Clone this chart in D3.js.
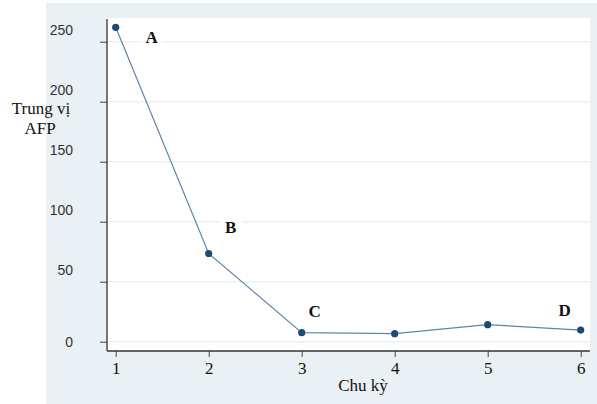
<html>
<head>
<script src="https://d3js.org/d3.v7.min.js"></script>
<style>
  body { margin: 0; background: #ffffff; }
</style>
</head>
<body>
<svg id="svg" width="597" height="404"></svg>
<script>
  // data
  var cycles = [1, 2, 3, 4, 5, 6];
  var medianAFP = [262, 73.5, 7.5, 6.7, 14.2, 9.7];
  var yTicks = [0, 50, 100, 150, 200, 250];
  var pointLabels = [
    { cycle: 1, text: "A", dx: 36, dy: 10 },
    { cycle: 2, text: "B", dx: 22, dy: -26 },
    { cycle: 3, text: "C", dx: 13, dy: -22 },
    { cycle: 6, text: "D", dx: -16, dy: -20 }
  ];

  var svg = d3.select("svg");
  var width = +svg.attr("width");
  var height = +svg.attr("height");

  // outer panel
  svg.append("rect").attr("x", 46).attr("y", 3).attr("width", width - 46).attr("height", height - 3)
     .attr("fill", "#eaf1f4");

  var plotLeft = 107, plotRight = 590, plotTop = 18, plotBottom = 351;
  svg.append("rect").attr("x", plotLeft).attr("y", plotTop)
     .attr("width", plotRight - plotLeft).attr("height", plotBottom - plotTop)
     .attr("fill", "#ffffff");

  var x = d3.scaleLinear().domain([1, 6]).range([115.7, 580.7]);
  var y = d3.scaleLinear().domain([0, 250]).range([341.7, 41.7]);

  // gridlines
  svg.append("g").selectAll("line").data(yTicks).enter().append("line")
     .attr("x1", plotLeft).attr("x2", plotRight)
     .attr("y1", function(d){ return y(d); }).attr("y2", function(d){ return y(d); })
     .attr("stroke", "#eaf1f3").attr("stroke-width", 1.5);

  // axes
  var yAxis = d3.axisLeft(y).tickValues(yTicks).tickSize(7).tickSizeOuter(0);
  var gy = svg.append("g").attr("transform", "translate(" + plotLeft + ",0)").call(yAxis);
  gy.select(".domain").remove();
  gy.selectAll(".tick line").attr("stroke", "#444");
  gy.selectAll(".tick text")
    .attr("x", -34).attr("text-anchor", "end")
    .attr("dy", function(d){ return d == 0 ? "0.35em" : "-0.5em"; })
    .attr("font-family", "Liberation Sans, Arial, sans-serif").attr("font-size", 14).attr("fill", "#333");

  var xAxis = d3.axisBottom(x).tickValues(cycles).tickFormat(d3.format("d")).tickSize(6).tickSizeOuter(0);
  var gx = svg.append("g").attr("transform", "translate(0," + plotBottom + ")").call(xAxis);
  gx.select(".domain").remove();
  gx.selectAll(".tick line").attr("stroke", "#444");
  gx.selectAll(".tick text")
    .attr("y", 11)
    .attr("font-family", "Liberation Serif, Times New Roman, serif").attr("font-size", 17).attr("fill", "#111");

  svg.append("line").attr("x1", plotLeft).attr("x2", plotLeft).attr("y1", plotTop + 1).attr("y2", plotBottom)
     .attr("stroke", "#333").attr("stroke-width", 1.3);
  svg.append("line").attr("x1", plotLeft).attr("x2", plotRight).attr("y1", plotBottom).attr("y2", plotBottom)
     .attr("stroke", "#333").attr("stroke-width", 1.3);

  // line + points
  var pts = cycles.map(function(c, i){ return [c, medianAFP[i]]; });
  var line = d3.line().x(function(d){ return x(d[0]); }).y(function(d){ return y(d[1]); });
  svg.append("path").datum(pts).attr("d", line)
     .attr("fill", "none").attr("stroke", "#5f84aa").attr("stroke-width", 1.2);
  svg.append("g").selectAll("circle").data(pts).enter().append("circle")
     .attr("cx", function(d){ return x(d[0]); }).attr("cy", function(d){ return y(d[1]); })
     .attr("r", 3.6).attr("fill", "#1d4a72");

  // point labels with white backing
  var lab = svg.append("g").selectAll("g").data(pointLabels).enter().append("g")
     .attr("transform", function(d){
       var i = cycles.indexOf(d.cycle);
       return "translate(" + (x(d.cycle) + d.dx) + "," + (y(medianAFP[i]) + d.dy) + ")";
     });
  lab.append("rect").attr("x", -11).attr("y", -9).attr("width", 22).attr("height", 18).attr("fill", "#ffffff");
  lab.append("text").text(function(d){ return d.text; })
     .attr("text-anchor", "middle").attr("dy", "0.35em")
     .attr("font-family", "Liberation Serif, Times New Roman, serif").attr("font-weight", "bold")
     .attr("font-size", 17).attr("fill", "#111");

  // titles
  var yt = svg.append("text").attr("text-anchor", "middle")
     .attr("font-family", "Liberation Serif, Times New Roman, serif").attr("font-size", 17).attr("fill", "#111");
  yt.append("tspan").attr("x", 41).attr("y", 114).text("Trung vị");
  yt.append("tspan").attr("x", 40).attr("y", 134).text("AFP");

  svg.append("text").attr("x", 363).attr("y", 391).attr("text-anchor", "middle")
     .attr("font-family", "Liberation Serif, Times New Roman, serif").attr("font-size", 17).attr("fill", "#111")
     .text("Chu kỳ");
</script>
</body>
</html>
